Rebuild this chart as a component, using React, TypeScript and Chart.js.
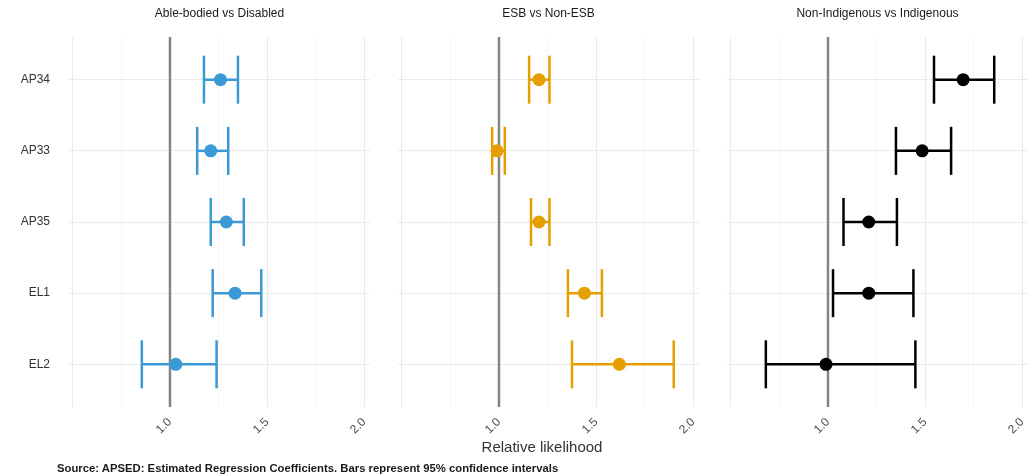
import React, { useEffect, useRef } from "react";
import { Chart, registerables } from "chart.js";

Chart.register(...registerables);

// ---------- data ----------
const categories = ["AP34", "AP33", "AP35", "EL1", "EL2"];
const panelTitles = ["Able-bodied vs Disabled", "ESB vs Non-ESB", "Non-Indigenous vs Indigenous"];
const panelColors = ["#3b99d6", "#E69F00", "#000000"];

const estAbleDisabled = [1.26, 1.21, 1.29, 1.335, 1.03];
const lowAbleDisabled = [1.175, 1.14, 1.21, 1.22, 0.855];
const highAbleDisabled = [1.35, 1.3, 1.38, 1.47, 1.24];

const estEsb = [1.206, 0.99, 1.206, 1.44, 1.62];
const lowEsb = [1.155, 0.965, 1.165, 1.355, 1.376];
const highEsb = [1.26, 1.03, 1.26, 1.53, 1.9];

const estIndigenous = [1.696, 1.485, 1.21, 1.21, 0.99];
const lowIndigenous = [1.546, 1.35, 1.08, 1.026, 0.68];
const highIndigenous = [1.856, 1.634, 1.355, 1.44, 1.45];

const xTickValues = [0.5, 0.75, 1, 1.25, 1.5, 1.75, 2];
const xTickLabels = ["", "", "1.0", "", "1.5", "", "2.0"];
const majorTickValues = [0.5, 1, 1.5, 2];
const referenceValue = 1;
const xAxisTitle = "Relative likelihood";
const caption =
  "Source: APSED: Estimated Regression Coefficients. Bars represent 95% confidence intervals";

// ---------- layout ----------
const FONT = "'Liberation Sans', Arial, Helvetica, sans-serif";
const PLOT_LEFTS = [69, 398, 727];
const PLOT_W = 301;
const H = 476;
const X_AXIS_H = 69;
const PAD = 8;
const X_MIN = 0.48;
const X_MAX = 2.03;

const panelSeries = [
  { est: estAbleDisabled, low: lowAbleDisabled, high: highAbleDisabled },
  { est: estEsb, low: lowEsb, high: highEsb },
  { est: estIndigenous, low: lowIndigenous, high: highIndigenous },
];

function Panel({ idx }: { idx: number }) {
  const ref = useRef<HTMLCanvasElement>(null);
  const isFirst = idx === 0;
  const padL = isFirst ? PLOT_LEFTS[0] : PAD;
  const canvasLeft = PLOT_LEFTS[idx] - padL;
  const canvasW = padL + PLOT_W + PAD;

  useEffect(() => {
    if (!ref.current) return;
    const color = panelColors[idx];
    const { est, low, high } = panelSeries[idx];

    const refLine = {
      id: "refLine" + idx,
      beforeDatasetsDraw(chart: any) {
        const { ctx, chartArea, scales } = chart;
        const x = scales.x.getPixelForValue(referenceValue);
        ctx.save();
        ctx.strokeStyle = "#858585";
        ctx.lineWidth = 2.5;
        ctx.beginPath();
        ctx.moveTo(x, chartArea.top);
        ctx.lineTo(x, chartArea.bottom);
        ctx.stroke();
        ctx.restore();
      },
    };

    const ciDatasets = categories.map((_, i) => ({
      data: [
        { x: low[i], y: i },
        { x: high[i], y: i },
      ],
      showLine: true,
      borderColor: color,
      borderWidth: 2.5,
      pointRadius: 0,
      clip: false,
      order: 3,
    }));

    const capDataset = {
      data: categories.flatMap((_, i) => [
        { x: low[i], y: i },
        { x: high[i], y: i },
      ]),
      showLine: false,
      pointStyle: "line",
      pointRotation: 90,
      pointRadius: 24,
      pointBorderColor: color,
      pointBorderWidth: 2.5,
      borderColor: color,
      clip: false,
      order: 2,
    };

    const pointDataset = {
      data: categories.map((_, i) => ({ x: est[i], y: i })),
      showLine: false,
      pointStyle: "circle",
      pointRadius: 6.5,
      pointBackgroundColor: color,
      pointBorderColor: color,
      pointBorderWidth: 0,
      clip: false,
      order: 1,
    };

    const chart = new Chart(ref.current, {
      type: "scatter",
      data: { datasets: [...ciDatasets, capDataset, pointDataset] as any },
      plugins: [refLine],
      options: {
        animation: false,
        responsive: false,
        events: [],
        layout: {
          autoPadding: false,
          padding: { left: isFirst ? 0 : PAD, right: PAD, top: 0, bottom: 0 },
        },
        plugins: {
          legend: { display: false },
          tooltip: { enabled: false },
          title: {
            display: true,
            text: panelTitles[idx],
            fullSize: false,
            color: "#1a1a1a",
            font: { family: FONT, size: 12, weight: "normal" },
            padding: { top: 6, bottom: 16.6 },
          },
        },
        scales: {
          x: {
            type: "linear",
            min: X_MIN,
            max: X_MAX,
            afterBuildTicks: (s: any) => {
              s.ticks = xTickValues.map((v) => ({ value: v }));
            },
            afterFit: (s: any) => {
              s.height = X_AXIS_H;
              s.paddingLeft = 0;
              s.paddingRight = 0;
            },
            grid: {
              drawTicks: false,
              color: (c: any) =>
                majorTickValues.includes(c.tick?.value) ? "#ebebeb" : "#f3f3f3",
              lineWidth: (c: any) => (majorTickValues.includes(c.tick?.value) ? 1 : 0.7),
            },
            border: { display: false },
            ticks: {
              autoSkip: false,
              minRotation: 45,
              maxRotation: 45,
              padding: 8,
              color: "#4d4d4d",
              font: { family: FONT, size: 12 },
              callback: (_v: any, i: number) => xTickLabels[i],
            },
          },
          y: {
            type: "linear",
            reverse: true,
            min: -0.6,
            max: 4.6,
            afterBuildTicks: (s: any) => {
              s.ticks = categories.map((_, i) => ({ value: i }));
            },
            afterFit: (s: any) => {
              s.width = isFirst ? PLOT_LEFTS[0] : 0;
              s.paddingTop = 0;
              s.paddingBottom = 0;
            },
            grid: { drawTicks: false, color: "#ebebeb", lineWidth: 1 },
            border: { display: false },
            ticks: {
              display: isFirst,
              padding: 19,
              color: "#333333",
              font: { family: FONT, size: 12 },
              callback: (v: any) => categories[v] ?? "",
            },
          },
        },
      } as any,
    });
    return () => chart.destroy();
  }, [idx]);

  return (
    <canvas
      ref={ref}
      width={canvasW}
      height={H}
      style={{ position: "absolute", left: canvasLeft, top: 0, width: canvasW, height: H }}
    />
  );
}

export default function App() {
  return (
    <div
      style={{
        position: "fixed",
        left: 0,
        top: 0,
        width: 1029,
        height: 476,
        overflow: "hidden",
        background: "#ffffff",
        fontFamily: FONT,
      }}
    >
      {[0, 1, 2].map((i) => (
        <Panel key={i} idx={i} />
      ))}
      <div
        style={{
          position: "absolute",
          left: 542,
          top: 438,
          transform: "translateX(-50%)",
          fontSize: 15,
          lineHeight: "17px",
          color: "#333333",
          whiteSpace: "nowrap",
        }}
      >
        {xAxisTitle}
      </div>
      <div
        style={{
          position: "absolute",
          left: 57,
          top: 462,
          fontSize: 11.3,
          lineHeight: "12px",
          fontWeight: "bold",
          color: "#1a1a1a",
          whiteSpace: "nowrap",
        }}
      >
        {caption}
      </div>
    </div>
  );
}
